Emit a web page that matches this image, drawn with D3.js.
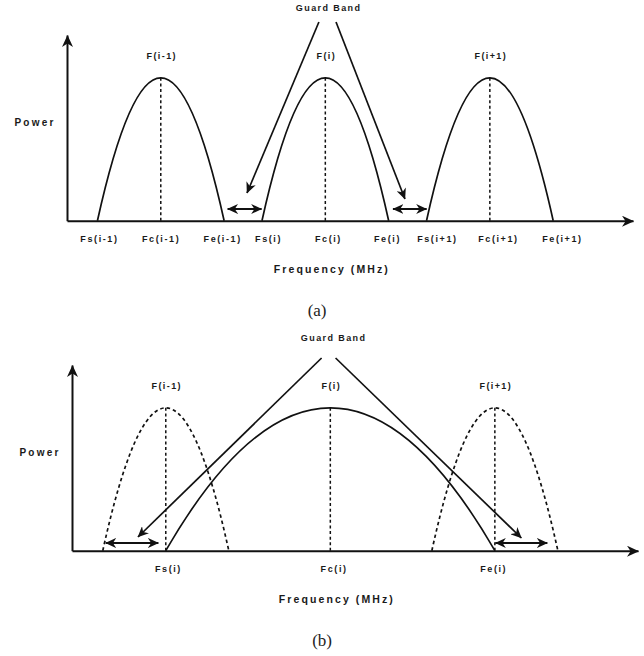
<!DOCTYPE html>
<html>
<head>
<meta charset="utf-8">
<script src="https://cdn.jsdelivr.net/npm/d3@7"></script>
<style>
  body { margin: 0; background: #fff; }
  svg { display: block; }
  .lbl { font-family: "Liberation Sans", Arial, sans-serif; font-weight: bold; fill: #1a1a1a; }
  .cap { font-family: "Liberation Serif", "Times New Roman", serif; fill: #222; }
</style>
</head>
<body>
<div></div>
<script>
const width = 644;
const height = 656;

// panel (a): three channels with guard bands between them
const channelsA = ['F(i-1)', 'F(i)', 'F(i+1)'];
const centersA = [1, 2, 3];
const halfWidthA = [0.385, 0.385, 0.385];
const peakA = [1, 1, 1];
const tickPosA = [0.624, 0.999, 1.373, 1.652, 2.016, 2.375, 2.678, 3.049, 3.438];
const tickLabelsA = ['Fs(i-1)', 'Fc(i-1)', 'Fe(i-1)', 'Fs(i)', 'Fc(i)', 'Fe(i)', 'Fs(i+1)', 'Fc(i+1)', 'Fe(i+1)'];
const guardArrowsA = [[1.406, 1.613], [2.411, 2.616]];
const guardArrowPowerA = 0.082;
const pointersA = [[[1.961, 1.391], [1.524, 0.194]], [[2.065, 1.391], [2.484, 0.152]]];

// panel (b): widened channel F(i), neighbours dashed
const channelsB = ['F(i-1)', 'F(i)', 'F(i+1)'];
const centersB = [1, 2, 3];
const halfWidthB = [0.383, 1.0, 0.383];
const peakB = [1, 1, 1];
const dashedB = [true, false, true];
const tickPosB = [1.013, 2.02, 2.99];
const tickLabelsB = ['Fs(i)', 'Fc(i)', 'Fe(i)'];
const guardArrowsB = [[0.635, 0.955], [3.003, 3.319]];
const guardArrowPowerB = 0.054;
const pointersB = [[[1.947, 1.349], [0.831, 0.096]], [[2.032, 1.349], [3.161, 0.089]]];

const xDomain = [0.43, 3.87];
const yDomain = [0, 1.3];

const svg = d3.select('div').append('svg').attr('width', width).attr('height', height);

// arrow heads
const defs = svg.append('defs');
function addMarker(id, len, wid) {
    defs.append('marker')
        .attr('id', id)
        .attr('markerUnits', 'userSpaceOnUse')
        .attr('viewBox', `0 0 ${len} ${wid}`)
        .attr('refX', len - 0.5).attr('refY', wid / 2)
        .attr('markerWidth', len).attr('markerHeight', wid)
        .attr('orient', 'auto-start-reverse')
        .append('path')
        .attr('d', `M0,0L${len},${wid / 2}L0,${wid}L${len * 0.3},${wid / 2}Z`)
        .attr('fill', '#111');
}
addMarker('axisHead', 12, 11);
addMarker('smallHead', 11, 10);

function drawPanel(cfg) {
    const x = d3.scaleLinear().domain(xDomain).range(cfg.xRange);
    const y = d3.scaleLinear().domain(yDomain).range(cfg.yRange);
    const g = svg.append('g');

    // axes with arrow at end
    const xAxis = d3.axisBottom(x)
        .tickValues(cfg.tickPos)
        .tickFormat((d, i) => cfg.tickLabels[i])
        .tickSize(0).tickSizeOuter(0).tickPadding(15);
    const xg = g.append('g').attr('transform', `translate(0,${y(0)})`).call(xAxis);
    xg.select('.domain').attr('stroke', '#111').attr('stroke-width', 2).attr('marker-end', 'url(#axisHead)');
    xg.selectAll('text').attr('class', 'lbl').style('font-size', '9px').style('letter-spacing', '1.6px');

    const yAxis = d3.axisLeft(y).tickValues([]).tickSizeOuter(0);
    const yg = g.append('g').attr('transform', `translate(${x(xDomain[0])},0)`).call(yAxis);
    yg.select('.domain').attr('stroke', '#111').attr('stroke-width', 2).attr('marker-end', 'url(#axisHead)');

    // channel curves
    const chans = cfg.centers.map((c, i) => ({
        name: cfg.channels[i], c: c, hw: cfg.halfWidth[i], peak: cfg.peak[i], dashed: cfg.dashed ? cfg.dashed[i] : false
    }));

    g.selectAll('path.curve').data(chans).enter().append('path')
        .attr('class', 'curve')
        .attr('d', d => {
            const p = d3.path();
            p.moveTo(x(d.c - d.hw), y(0));
            p.quadraticCurveTo(x(d.c), y(2 * d.peak), x(d.c + d.hw), y(0));
            return p.toString();
        })
        .attr('fill', 'none')
        .attr('stroke', '#111')
        .attr('stroke-width', 1.7)
        .attr('stroke-dasharray', d => d.dashed ? '3.5,3' : null);

    // centre lines
    g.selectAll('line.centre').data(chans).enter().append('line')
        .attr('class', 'centre')
        .attr('x1', d => x(d.c)).attr('x2', d => x(d.c))
        .attr('y1', d => y(d.peak)).attr('y2', y(0))
        .attr('stroke', '#111').attr('stroke-width', 1.5).attr('stroke-dasharray', '3,2.6');

    // channel names
    g.selectAll('text.chan').data(chans).enter().append('text')
        .attr('class', 'lbl')
        .attr('x', d => x(d.c) + 1)
        .attr('y', d => y(d.peak) - 21)
        .attr('text-anchor', 'middle').attr('dominant-baseline', 'middle')
        .style('font-size', '9px').style('letter-spacing', '1.4px')
        .text(d => d.name);

    // guard band double arrows
    g.selectAll('line.guard').data(cfg.guardArrows).enter().append('line')
        .attr('x1', d => x(d[0])).attr('x2', d => x(d[1]))
        .attr('y1', y(cfg.guardPower)).attr('y2', y(cfg.guardPower))
        .attr('stroke', '#111').attr('stroke-width', 2)
        .attr('marker-start', 'url(#smallHead)').attr('marker-end', 'url(#smallHead)');

    // pointers from the "Guard Band" label
    g.selectAll('line.pointer').data(cfg.pointers).enter().append('line')
        .attr('x1', d => x(d[0][0])).attr('y1', d => y(d[0][1]))
        .attr('x2', d => x(d[1][0])).attr('y2', d => y(d[1][1]))
        .attr('stroke', '#111').attr('stroke-width', 1.7)
        .attr('marker-end', 'url(#smallHead)');

    g.append('text').attr('class', 'lbl')
        .attr('x', x(2.02)).attr('y', y(yDomain[1]) - 26)
        .attr('text-anchor', 'middle').attr('dominant-baseline', 'middle')
        .style('font-size', '9px').style('letter-spacing', '1.4px')
        .text('Guard Band');

    g.append('text').attr('class', 'lbl')
        .attr('x', x(xDomain[0]) - 32).attr('y', y(0.68))
        .attr('text-anchor', 'middle').attr('dominant-baseline', 'middle')
        .style('font-size', '10px').style('letter-spacing', '2.2px')
        .text('Power');

    g.append('text').attr('class', 'lbl')
        .attr('x', x(2.04)).attr('y', y(0) + 50)
        .attr('text-anchor', 'middle').attr('dominant-baseline', 'middle')
        .style('font-size', '10.5px').style('letter-spacing', '2.1px')
        .text('Frequency (MHz)');

    g.append('text').attr('class', 'cap')
        .attr('x', x(1.95)).attr('y', y(0) + 91)
        .attr('text-anchor', 'middle').attr('dominant-baseline', 'middle')
        .style('font-size', '17px')
        .text(cfg.caption);
}

drawPanel({
    xRange: [67, 633], yRange: [220.7, 35],
    channels: channelsA, centers: centersA, halfWidth: halfWidthA, peak: peakA,
    tickPos: tickPosA, tickLabels: tickLabelsA,
    guardArrows: guardArrowsA, guardPower: guardArrowPowerA, pointers: pointersA,
    caption: '(a)'
});

drawPanel({
    xRange: [72, 638], yRange: [550.7, 365],
    channels: channelsB, centers: centersB, halfWidth: halfWidthB, peak: peakB, dashed: dashedB,
    tickPos: tickPosB, tickLabels: tickLabelsB,
    guardArrows: guardArrowsB, guardPower: guardArrowPowerB, pointers: pointersB,
    caption: '(b)'
});
</script>
</body>
</html>
